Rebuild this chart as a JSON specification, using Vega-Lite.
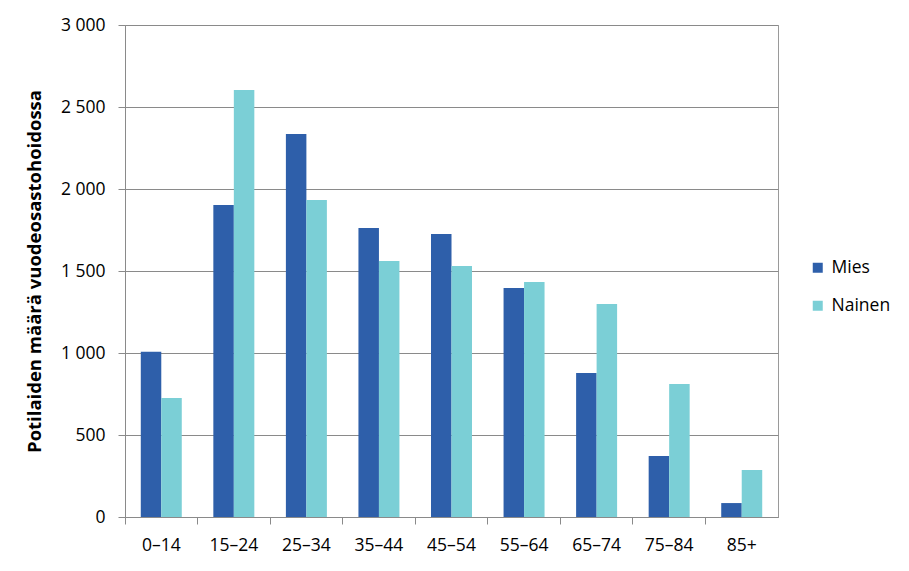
{
  "$schema": "https://vega.github.io/schema/vega-lite/v6.json",
  "width": 653,
  "height": 492,
  "autosize": {"type": "none"},
  "padding": {"left": 125, "top": 25, "right": 131, "bottom": 54},
  "background": "white",
  "config": {
    "font": "Open Sans",
    "view": {"stroke": "#9a9a9a", "strokeWidth": 1},
    "axis": {
      "labelFont": "Open Sans",
      "titleFont": "Open Sans",
      "labelColor": "#000000",
      "titleColor": "#000000",
      "domainColor": "#8a8a8a",
      "tickColor": "#8a8a8a",
      "gridColor": "#8a8a8a",
      "labelFontSize": 17.5
    }
  },
  "data": {
    "values": [
      {"ika": "0–14", "sukupuoli": "Mies", "maara": 1008},
      {"ika": "0–14", "sukupuoli": "Nainen", "maara": 726},
      {"ika": "15–24", "sukupuoli": "Mies", "maara": 1902},
      {"ika": "15–24", "sukupuoli": "Nainen", "maara": 2604},
      {"ika": "25–34", "sukupuoli": "Mies", "maara": 2335},
      {"ika": "25–34", "sukupuoli": "Nainen", "maara": 1933},
      {"ika": "35–44", "sukupuoli": "Mies", "maara": 1762},
      {"ika": "35–44", "sukupuoli": "Nainen", "maara": 1561},
      {"ika": "45–54", "sukupuoli": "Mies", "maara": 1726},
      {"ika": "45–54", "sukupuoli": "Nainen", "maara": 1530},
      {"ika": "55–64", "sukupuoli": "Mies", "maara": 1396},
      {"ika": "55–64", "sukupuoli": "Nainen", "maara": 1433},
      {"ika": "65–74", "sukupuoli": "Mies", "maara": 878},
      {"ika": "65–74", "sukupuoli": "Nainen", "maara": 1299},
      {"ika": "75–84", "sukupuoli": "Mies", "maara": 372},
      {"ika": "75–84", "sukupuoli": "Nainen", "maara": 811},
      {"ika": "85+", "sukupuoli": "Mies", "maara": 85},
      {"ika": "85+", "sukupuoli": "Nainen", "maara": 287}
    ]
  },
  "mark": {"type": "bar"},
  "encoding": {
    "x": {
      "field": "ika",
      "type": "nominal",
      "sort": null,
      "scale": {"paddingInner": 0, "paddingOuter": 0},
      "axis": {
        "title": null,
        "labelAngle": 0,
        "bandPosition": 0,
        "tickSize": 7,
        "labelPadding": 12,
        "grid": false
      }
    },
    "xOffset": {
      "field": "sukupuoli",
      "type": "nominal",
      "scale": {"paddingInner": 0, "paddingOuter": 0.77}
    },
    "y": {
      "field": "maara",
      "type": "quantitative",
      "scale": {"domain": [0, 3000], "nice": false},
      "axis": {
        "title": "Potilaiden määrä vuodeosastohoidossa",
        "titleFontSize": 18.5,
        "titleFontWeight": "bold",
        "titlePadding": 16,
        "values": [0, 500, 1000, 1500, 2000, 2500, 3000],
        "labelExpr": "replace(format(datum.value, ','), ',', ' ')",
        "tickSize": 7,
        "labelPadding": 13,
        "grid": true,
        "gridColor": "#8a8a8a"
      }
    },
    "color": {
      "field": "sukupuoli",
      "type": "nominal",
      "scale": {"domain": ["Mies", "Nainen"], "range": ["#2E5FAA", "#7BCFD6"]},
      "legend": {
        "title": null,
        "orient": "none",
        "legendX": 684,
        "legendY": 234,
        "symbolType": "square",
        "symbolSize": 100,
        "symbolStrokeWidth": 0,
        "labelFontSize": 17.5,
        "labelFont": "Open Sans",
        "labelColor": "#000000",
        "rowPadding": 19,
        "labelOffset": 5
      }
    }
  }
}
